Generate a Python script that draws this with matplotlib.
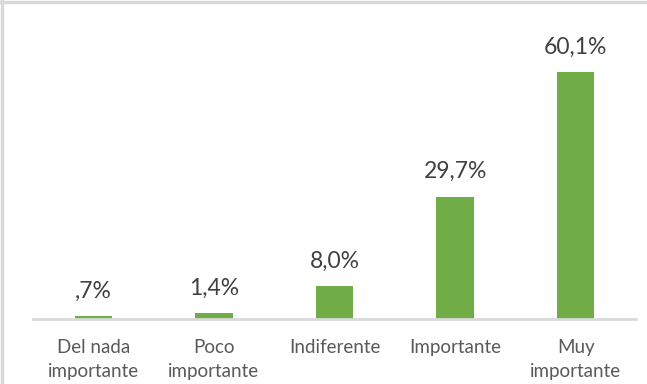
import matplotlib.pyplot as plt
from matplotlib.lines import Line2D

categories = ["Del nada\nimportante", "Poco\nimportante", "Indiferente", "Importante", "Muy\nimportante"]
values = [0.7, 1.4, 8.0, 29.7, 60.1]
value_labels = [",7%", "1,4%", "8,0%", "29,7%", "60,1%"]

plt.rcParams['font.family'] = ['Lato', 'DejaVu Sans']

fig = plt.figure(figsize=(6.47, 3.84), dpi=100)
ax = fig.add_axes([0.051, 0.169, 0.932, 0.749])

x = range(len(categories))
bars = ax.bar(x, values, width=0.31, color='#70AD47')

for b, lab in zip(bars, value_labels):
    ax.annotate(lab, (b.get_x() + b.get_width() / 2, b.get_height()),
                xytext=(0, 13.5), textcoords='offset points',
                ha='center', va='baseline', fontsize=16.5, color='#404040')

ax.set_xlim(-0.5, len(categories) - 0.5)
ax.set_ylim(0, 70)
ax.set_xticks(list(x))
ax.set_xticklabels(categories, fontsize=13.5, color='#595959', linespacing=1.45)
ax.tick_params(axis='x', length=0, pad=14.5)
ax.set_yticks([])
for s in ['top', 'right', 'left']:
    ax.spines[s].set_visible(False)
ax.spines['bottom'].set_color('#d9d9d9')
ax.spines['bottom'].set_linewidth(2)

# chart frame, top and left edges
fig.add_artist(Line2D([0, 1], [0.996, 0.996], transform=fig.transFigure, color='#d9d9d9', lw=2.5))
fig.add_artist(Line2D([0.003, 0.003], [0, 1], transform=fig.transFigure, color='#d9d9d9', lw=2.5))

fig.savefig('out.png', dpi=100)
